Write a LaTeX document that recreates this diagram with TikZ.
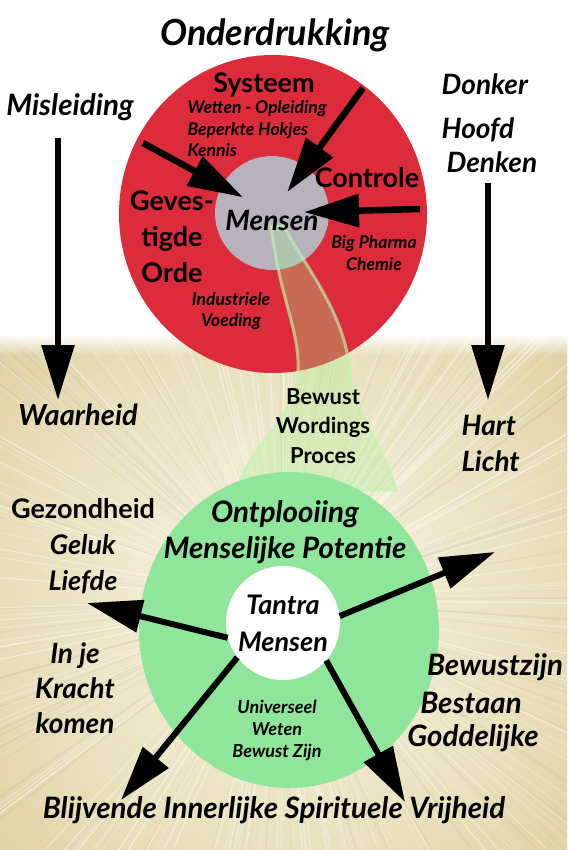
\documentclass[tikz,border=0pt]{standalone}
\usepackage{fontspec}
\setmainfont{Lato}
\usetikzlibrary{arrows.meta,fadings}

\definecolor{redring}{HTML}{DC2B3B}
\definecolor{greyhub}{HTML}{B7B2BC}
\definecolor{greenring}{HTML}{8FE69A}
\definecolor{beamgreen}{HTML}{A4F08E}
\definecolor{bglight}{HTML}{FBF8E9}
\definecolor{bgdark}{HTML}{DCCE9C}

\tikzset{
  bigarrow/.style={-{Triangle[length=55pt,width=32pt]}, line width=6.5pt},
  hub/.style={circle, inner sep=0pt, minimum size=114pt},
  titletext/.style={font=\fontsize{36}{40}\selectfont\bfseries\itshape},
  sidetext/.style={font=\fontsize{28}{36}\selectfont\bfseries\itshape, align=center},
  ringtext/.style={font=\fontsize{27}{36}\selectfont\bfseries, align=center},
  midtext/.style={font=\fontsize{22}{29.5}\selectfont\bfseries, align=center},
  smalltext/.style={font=\fontsize{17.5}{21.5}\selectfont\bfseries\itshape, align=center}
}

\newcommand\beamshape{(271,226) .. controls (280,300) and (300,330) .. (298,372)
  .. controls (295,420) and (245,450) .. (238,490) -- (396,490)
  .. controls (382,440) and (352,410) .. (350,372)
  .. controls (345,310) and (300,260) .. (284,226) -- cycle}

\begin{document}
\begin{tikzpicture}[x=1pt, y=-1pt]
  \useasboundingbox (0,0) rectangle (567,850);
  \fill[white] (0,0) rectangle (567,850);

  % lichtstralen achtergrond
  \pgfmathsetseed{7}
  \begin{scope}
    \clip (0,335) rectangle (567,850);
    \shade[inner color=bglight, outer color=bgdark] (283,600) circle[radius=430pt];
    \foreach \i in {1,...,260} {
      \pgfmathsetmacro\ang{rnd*360}
      \pgfmathsetmacro\op{0.1+0.45*rnd}
      \pgfmathsetmacro\wd{0.3+1.1*rnd}
      \draw[white, opacity=\op, line width=\wd pt] (283,600) -- ++(\ang:600pt);
    }
    \foreach \i in {1,...,80} {
      \pgfmathsetmacro\ang{rnd*360}
      \pgfmathsetmacro\wd{0.4+1.5*rnd}
      \draw[bgdark!70!black, opacity=0.1, line width=\wd pt] (283,600) -- ++(\ang:600pt);
    }
  \end{scope}
  \fill[white, path fading=south] (0,334) rectangle (567,356);

  % rode cirkel
  \fill[redring] (273,214) ellipse[x radius=154pt, y radius=159pt];
  \node[hub, fill=greyhub] (mensen) at (272,213) {};

  % bewustwordingsstraal
  \fill[beamgreen, opacity=0.32] \beamshape;
  \draw[beamgreen!70!white, opacity=0.65, line width=3pt] \beamshape;

  % groene cirkel
  \fill[greenring] (289,630) ellipse[x radius=150pt, y radius=158pt];
  \node[hub, fill=white] (tantra) at (283,623) {};

  % pijlen
  \coordinate (systip) at (143,143);
  \coordinate (ctrltip) at (363,88);
  \coordinate (rechts) at (420,209);
  \draw[bigarrow, shorten >=33pt] (systip) -- (mensen.center);
  \draw[bigarrow, shorten >=26pt] (ctrltip) -- (mensen.center);
  \draw[bigarrow, shorten >=32pt] (rechts) -- (mensen.center);

  \coordinate (misltop) at (58,138);
  \coordinate (mislend) at (58,400);
  \coordinate (hoofdtop) at (488,183);
  \coordinate (hoofdend) at (488,400);
  \draw[bigarrow, line width=6pt] (misltop) -- (mislend);
  \draw[bigarrow, line width=6pt] (hoofdtop) -- (hoofdend);

  \coordinate (geluk) at (87,603);
  \coordinate (bestaan) at (495,552);
  \coordinate (vrijL) at (121,800);
  \coordinate (vrijR) at (405,802);
  \draw[bigarrow, line width=6pt] (tantra.195) -- (geluk);
  \draw[bigarrow, line width=6pt] (tantra.7) -- (bestaan);
  \draw[bigarrow, line width=6pt] (tantra.217) -- (vrijL);
  \draw[bigarrow, line width=6pt] (tantra.319) -- (vrijR);

  % teksten boven
  \node[titletext] (onderdrukking) at (275,35) {Onderdrukking};
  \node[sidetext, font=\fontsize{29.5}{36}\selectfont\bfseries\itshape] (misleiding) at (70,107) {Misleiding};
  \node[sidetext, anchor=west] (donker) at (438,84) {Donker};
  \node[sidetext, anchor=west] (hoofd) at (438,130) {Hoofd};
  \node[sidetext, anchor=west] (denken) at (443,162) {Denken};

  % teksten rode cirkel
  \node[ringtext] (systeem) at (264,85) {Systeem};
  \node[smalltext, anchor=west, align=left] (wetten) at (184,129) {Wetten - Opleiding\\Beperkte Hokjes\\Kennis};
  \node[ringtext] (controle) at (367,178) {Controle};
  \node[ringtext] (orde) at (172,237) {Geves-\\tigde\\Orde};
  \node[smalltext] (pharma) at (374,253) {Big Pharma\\Chemie};
  \node[smalltext] (voeding) at (231,311) {Industriele\\Voeding};
  \node[sidetext] at ([yshift=-7pt]mensen.center) {Mensen};

  % teksten midden
  \node[sidetext, font=\fontsize{29}{36}\selectfont\bfseries\itshape] (waarheid) at (78,415) {Waarheid};
  \node[midtext] (proces) at (323,426) {Bewust\\Wordings\\Proces};
  \node[sidetext, anchor=west, align=left] (hartlicht) at (458,443) {Hart\\Licht};

  % teksten groene cirkel
  \node[sidetext, font=\fontsize{29.5}{36}\selectfont\bfseries\itshape] (ontplooiing) at (285,532) {Ontplooiing\\Menselijke Potentie};
  \node[sidetext, font=\fontsize{27}{37}\selectfont\bfseries\itshape] at (tantra) {Tantra\\Mensen};
  \node[smalltext, font=\fontsize{18}{22}\selectfont\bfseries\itshape] (weten) at (277,730) {Universeel\\Weten\\Bewust Zijn};

  % teksten onder
  \node[ringtext] (gezondheid) at (83,546) {Gezondheid\\\textit{Geluk}\\\textit{Liefde}};
  \node[sidetext, font=\fontsize{28}{35}\selectfont\bfseries\itshape] (kracht) at (75,688) {In je\\Kracht\\komen};
  \node[sidetext, font=\fontsize{29.5}{36}\selectfont\bfseries\itshape] (bewustzijn) at (495,667) {Bewustzijn};
  \node[sidetext, font=\fontsize{29.5}{36}\selectfont\bfseries\itshape] (bestaanlbl) at (471,703) {Bestaan};
  \node[sidetext, font=\fontsize{29.5}{36}\selectfont\bfseries\itshape] (goddelijke) at (473,738) {Goddelijke};
  \node[sidetext, font=\fontsize{29.5}{36}\selectfont\bfseries\itshape] (vrijheid) at (274,810) {Blijvende Innerlijke Spirituele Vrijheid};
\end{tikzpicture}
\end{document}
